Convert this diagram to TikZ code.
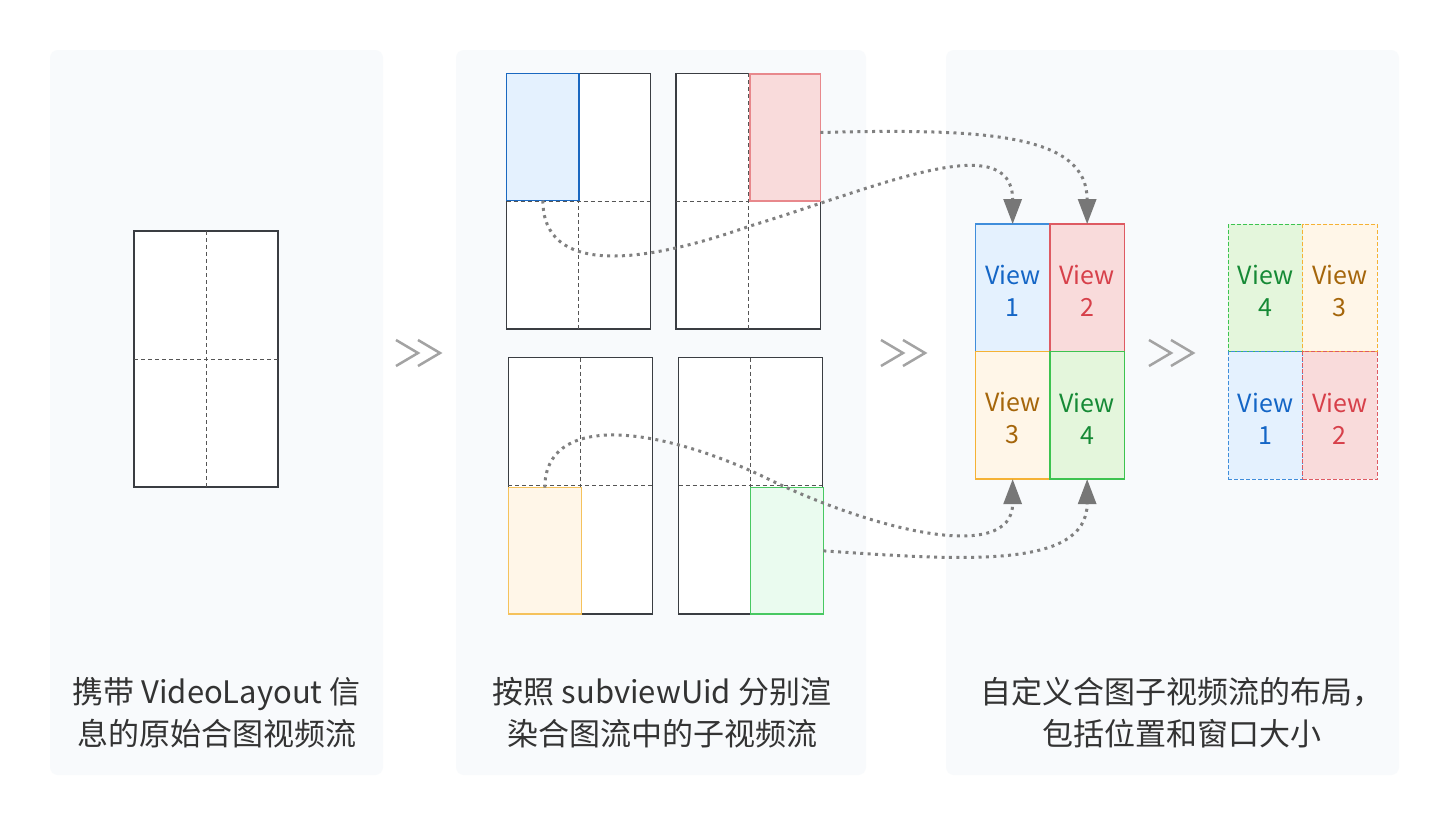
\documentclass[tikz,border=0pt]{standalone}
\usepackage{fontspec}
\newfontfamily\cjk{Noto Sans CJK SC}
\usetikzlibrary{arrows.meta}
\definecolor{panelbg}{HTML}{F8FAFC}
\definecolor{frameline}{HTML}{3A3D42}
\definecolor{gridline}{HTML}{555555}
\definecolor{dotc}{HTML}{808080}
\definecolor{tipc}{HTML}{777777}
\definecolor{chev}{HTML}{A3A3A3}
\definecolor{txt}{HTML}{333333}
\definecolor{cAfill}{HTML}{E4F1FE}\definecolor{cAline}{HTML}{3F8DDB}\definecolor{cAtext}{HTML}{1466C6}
\definecolor{cBfill}{HTML}{F9DBDB}\definecolor{cBline}{HTML}{DE5A62}\definecolor{cBtext}{HTML}{D7404A}
\definecolor{cCfill}{HTML}{FFF6E8}\definecolor{cCline}{HTML}{F5B235}\definecolor{cCtext}{HTML}{A5660B}
\definecolor{cDfill}{HTML}{E4F6DC}\definecolor{cDline}{HTML}{3DC350}\definecolor{cDtext}{HTML}{168A36}
\definecolor{mAline}{HTML}{1A68C0}\definecolor{mBline}{HTML}{E8888C}
\definecolor{mCline}{HTML}{F5C25C}\definecolor{mDline}{HTML}{48C862}\definecolor{mDfill}{HTML}{EAFBEF}
\tikzset{
  panel/.style={fill=panelbg, draw=none, rounded corners=8pt},
  frame/.style={draw=frameline, fill=white, line width=1.2pt, inner sep=0pt, outer sep=0pt},
  gridln/.style={draw=gridline, line width=1pt, dash pattern=on 4pt off 3pt},
  sub/.style={line width=1.4pt, inner sep=0pt, outer sep=0pt},
  view/.style={line width=1.4pt, inner sep=0pt, outer sep=0pt, minimum width=74.5pt, minimum height=127.5pt},
  dview/.style={view, dash pattern=on 4pt off 2pt, line width=1.2pt},
  vlabel/.style={align=center, inner sep=0pt, font=\cjk\fontsize{25}{32}\selectfont},
  dotted link/.style={draw=dotc, line width=3pt, dash pattern=on 3pt off 4.4pt,
    -{Triangle[length=25pt,width=18pt,color=tipc]}},
  chevron/.style={draw=chev, line width=2.5pt},
  caption/.style={align=center, text=txt, font=\cjk\fontsize{31}{41.5}\selectfont, inner sep=0pt}
}
\begin{document}
\begin{tikzpicture}[x=1pt,y=-1pt]
\useasboundingbox (0,0) rectangle (1449,825);
\fill[white] (0,0) rectangle (1449,825);
% panels
\path[panel] (50,50) rectangle (383,775);
\path[panel] (456,50) rectangle (866,775);
\path[panel] (946,50) rectangle (1399,775);
% panel 1 frame
\node[frame, minimum width=144pt, minimum height=256pt] (O) at (206,359) {};
\draw[gridln] (O.north) -- (O.south);
\draw[gridln] (O.west) -- (O.east);
% panel 2 frames
\node[frame, minimum width=143.6pt, minimum height=255.7pt] (A) at (578.5,201.15) {};
\node[frame, minimum width=144.3pt, minimum height=255.7pt] (B) at (748.15,201.15) {};
\node[frame, minimum width=144.4pt, minimum height=256.3pt] (C) at (580.5,485.85) {};
\node[frame, minimum width=143.6pt, minimum height=256.3pt] (D) at (750.5,485.85) {};
\foreach \f in {A,B,C,D}{
  \draw[gridln] (\f.north) -- (\f.south);
  \draw[gridln] (\f.west) -- (\f.east);
}
\node[sub, draw=mAline, fill=cAfill, minimum width=72.3pt, minimum height=127.2pt] (sA) at (542.85,136.9) {};
\node[sub, draw=mBline, fill=cBfill, minimum width=70.3pt, minimum height=127pt] (sB) at (785.15,137.5) {};
\node[sub, draw=mCline, fill=cCfill, minimum width=73pt, minimum height=126.3pt] (sC) at (544.8,550.85) {};
\node[sub, draw=mDline, fill=mDfill, minimum width=72.6pt, minimum height=126.3pt] (sD) at (787,550.85) {};
% composed views
\node[view, draw=cAline, fill=cAfill] (v1) at (1012.65,287.85) {};
\node[view, draw=cBline, fill=cBfill] (v2) at (1087.15,287.85) {};
\node[view, draw=cCline, fill=cCfill] (v3) at (1012.65,415.35) {};
\node[view, draw=cDline, fill=cDfill] (v4) at (1087.15,415.35) {};
\node[vlabel, text=cAtext] (l1) at ([yshift=-3pt]v1.center) {View\\1};
\node[vlabel, text=cBtext] (l2) at ([yshift=-3pt]v2.center) {View\\2};
\node[vlabel, text=cCtext] (l3) at ([yshift=-3pt]v3.center) {View\\3};
\node[vlabel, text=cDtext] (l4) at ([yshift=-3pt]v4.center) {View\\4};
% rearranged views
\node[dview, draw=cDline, fill=cDfill] (w4) at (1265.5,287.85) {};
\node[dview, draw=cCline, fill=cCfill] (w3) at (1339.85,287.85) {};
\node[dview, draw=cAline, fill=cAfill] (w1) at (1265.5,415.35) {};
\node[dview, draw=cBline, fill=cBfill] (w2) at (1339.85,415.35) {};
\node[vlabel, text=cDtext] (m4) at ([yshift=-3pt]w4.center) {View\\4};
\node[vlabel, text=cCtext] (m3) at ([yshift=-3pt]w3.center) {View\\3};
\node[vlabel, text=cAtext] (m1) at ([yshift=-3pt]w1.center) {View\\1};
\node[vlabel, text=cBtext] (m2) at ([yshift=-3pt]w2.center) {View\\2};
% dotted connectors
\draw[dotted link] (sA.south) .. controls (543,275) and (640,265) .. (750,226)
   .. controls (870,190) and (1012.65,125) .. (v1.north);
\draw[dotted link] ([yshift=5pt]sB.east) .. controls (990,128) and (1087.15,135) .. (v2.north);
\draw[dotted link] (sC.north) .. controls (545,415) and (650,424) .. (760,475)
   .. controls (870,530) and (1012.65,565) .. (v3.south);
\draw[dotted link] (sD.east) .. controls (960,560) and (1087.15,570) .. (v4.south);
% chevrons
\foreach \dx in {0,485,753}{
  \draw[chevron] (396+\dx,340) -- (418+\dx,353) -- (396+\dx,366);
  \draw[chevron] (418+\dx,340) -- (440+\dx,353) -- (418+\dx,366);
}
% captions
\node[caption] (t1) at (216.5,712.5) {携带 VideoLayout 信\\息的原始合图视频流};
\node[caption] (t2) at (662,712.5) {按照 subviewUid 分别渲\\染合图流中的子视频流};
\node[caption] (t3) at (1182,712.5) {自定义合图子视频流的布局，\\包括位置和窗口大小};
\end{tikzpicture}
\end{document}
